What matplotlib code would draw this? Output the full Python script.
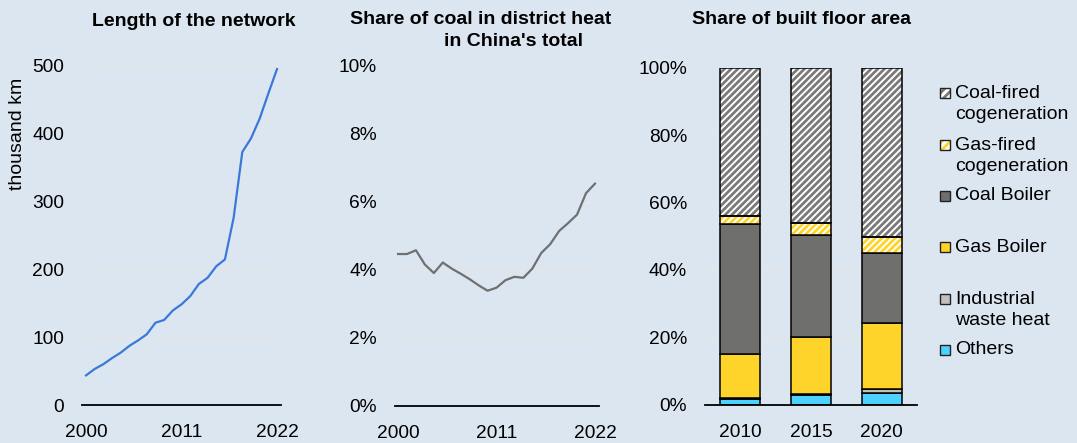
import matplotlib.pyplot as plt
import numpy as np
from matplotlib.patches import Rectangle

plt.rcParams['font.family'] = ['Liberation Sans', 'DejaVu Sans']
plt.rcParams['hatch.linewidth'] = 2.0

# ---- data ----
years = np.arange(2000, 2023)
network_km = [43.5, 53, 60, 69, 77, 87, 95, 104, 121, 125, 139, 148, 160,
              178, 187, 204, 214, 275, 372, 392, 421, 458, 494]
coal_share = [4.47, 4.47, 4.58, 4.16, 3.91, 4.22, 4.04, 3.89, 3.73, 3.55,
              3.39, 3.48, 3.70, 3.80, 3.77, 4.04, 4.50, 4.76, 5.15, 5.38,
              5.63, 6.26, 6.54]

bar_years = ['2010', '2015', '2020']
others = [1.6, 2.8, 3.5]
industrial = [0.2, 0.2, 1.1]
gas_boiler = [13.1, 17.2, 19.5]
coal_boiler = [38.8, 30.2, 20.8]
gas_cogen = [2.4, 3.4, 5.0]
coal_cogen = [43.9, 46.2, 50.1]

BG = '#dce6f1'
GRID = '#e6e6e6'
W, H = 1077, 443
TICK_FS = 13.8
TITLE_FS = 14


def fx(px):
    return px / W


def fy(py):
    return 1 - py / H


def style_axes(ax):
    ax.set_facecolor(BG)
    for s in ['top', 'right', 'left']:
        ax.spines[s].set_visible(False)
    ax.spines['bottom'].set_color('black')
    ax.spines['bottom'].set_linewidth(1.3)
    ax.spines['bottom'].set_zorder(4)
    ax.yaxis.grid(True, color=GRID, linewidth=1)
    ax.set_axisbelow(True)
    ax.tick_params(axis='both', length=0, labelsize=TICK_FS)
    ax.tick_params(axis='y', pad=13)
    ax.tick_params(axis='x', pad=14)


fig = plt.figure(figsize=(10.77, 4.43), dpi=100, facecolor=BG)

# ---- panel 1: network length ----
ax1 = fig.add_axes([fx(82), fy(405), fx(281 - 82), fy(65) - fy(405)])
ax1.plot(years, network_km, color='#3b78d8', linewidth=1.6)
ax1.set_xlim(1999.54, 2022.46)
ax1.set_ylim(0, 500)
ax1.set_yticks(range(0, 501, 100))
ax1.set_xticks([2000, 2011, 2022])
style_axes(ax1)
fig.text(fx(18), fy(134), 'thousand km', rotation=90, ha='center', va='center', fontsize=14)
fig.text(fx(194), fy(21), 'Length of the network', ha='center', va='center',
         fontsize=TITLE_FS, fontweight='bold')

# ---- panel 2: coal share ----
ax2 = fig.add_axes([fx(395), fy(406), fx(599 - 395), fy(66) - fy(406)])
ax2.plot(years, coal_share, color='#707070', linewidth=1.6)
ax2.set_xlim(1999.66, 2022.45)
ax2.set_ylim(0, 10)
ax2.set_yticks(range(0, 11, 2))
ax2.set_yticklabels([f'{v}%' for v in range(0, 11, 2)])
ax2.set_xticks([2000, 2011, 2022])
style_axes(ax2)
fig.text(fx(481), fy(20), 'Share of coal in district heat', ha='center', va='center',
         fontsize=TITLE_FS, fontweight='bold')
fig.text(fx(513), fy(42), "in China's total", ha='center', va='center',
         fontsize=TITLE_FS, fontweight='bold')

# ---- panel 3: floor area shares ----
ax3 = fig.add_axes([fx(705), fy(404.5), fx(917 - 705), fy(68) - fy(404.5)])
x = np.arange(len(bar_years))
bw = 0.57
segments = [
    ('Others', others, '#4dd2ff', None, None),
    ('Industrial\nwaste heat', industrial, '#c0c0c0', None, None),
    ('Gas Boiler', gas_boiler, '#ffd42a', None, None),
    ('Coal Boiler', coal_boiler, '#6f706e', None, None),
    ('Gas-fired\ncogeneration', gas_cogen, 'white', '#ffd42a', '/////'),
    ('Coal-fired\ncogeneration', coal_cogen, 'white', '#7a7a7a', '/////'),
]
bottom = np.zeros(len(bar_years))
for label, vals, fc, hc, hatch in segments:
    vals = np.array(vals)
    if hatch:
        ax3.bar(x, vals, bw, bottom=bottom, color=fc, edgecolor=hc, hatch=hatch,
                linewidth=0, zorder=2)
        ax3.bar(x, vals, bw, bottom=bottom, fill=False, edgecolor='black',
                linewidth=1.1, zorder=3)
    else:
        ax3.bar(x, vals, bw, bottom=bottom, color=fc, edgecolor='black',
                linewidth=1.1, zorder=2)
    bottom += vals
ax3.set_xlim(-0.5, 2.5)
ax3.set_ylim(0, 100)
ax3.set_yticks(range(0, 101, 20))
ax3.set_yticklabels([f'{v}%' for v in range(0, 101, 20)])
ax3.set_xticks(x)
ax3.set_xticklabels(bar_years)
style_axes(ax3)
fig.text(fx(801), fy(20), 'Share of built floor area', ha='center', va='center',
         fontsize=TITLE_FS, fontweight='bold')

# ---- legend (manual, irregular spacing like the original) ----
legend_rows = list(reversed(segments))
legend_y = [93, 145, 196, 247, 299, 350]
sw = 10
for (label, vals, fc, hc, hatch), ly in zip(legend_rows, legend_y):
    fig.patches.append(Rectangle((fx(940), fy(ly + sw / 2)), fx(sw), sw / H,
                                 transform=fig.transFigure, facecolor=fc,
                                 edgecolor=hc if hatch else 'black',
                                 hatch='////' if hatch else None, linewidth=0))
    fig.patches.append(Rectangle((fx(940), fy(ly + sw / 2)), fx(sw), sw / H,
                                 transform=fig.transFigure, fill=False,
                                 edgecolor='#222222', linewidth=1))
    fig.text(fx(955), fy(ly - 8.5), label, ha='left', va='top', fontsize=14,
             linespacing=1.35)

fig.savefig('out.png', dpi=100, facecolor=BG)
